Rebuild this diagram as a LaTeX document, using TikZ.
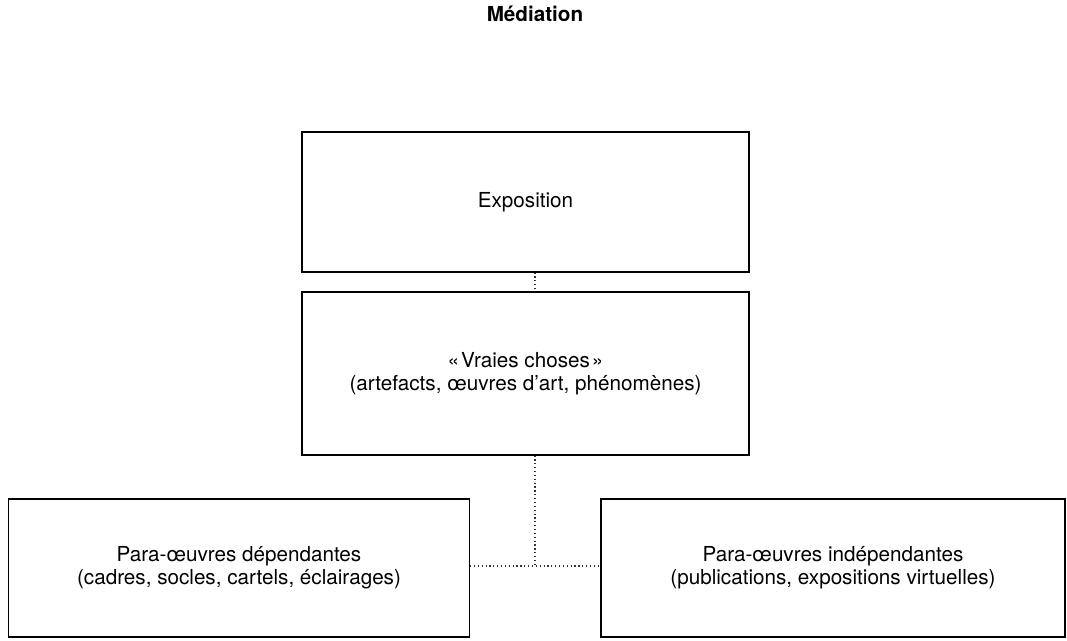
\documentclass[tikz,border=0pt]{standalone}
\usepackage{fontspec}
\setmainfont{TeX Gyre Heros}
\usetikzlibrary{positioning}
\def \px {0.75pt}

\begin{document}
\begin{tikzpicture}[x=\px,y=-\px,
    bloc/.style={draw,line width=0.8pt,inner sep=0pt,align=center,
      font=\fontsize{15.5}{17.5}\selectfont},
    lien/.style={dotted,line width=0.9pt,black!80}]
    \useasboundingbox (0,0) rectangle (1067,640);
    \node[font=\fontsize{15.5}{17.5}\selectfont\bfseries] (titre) at (535,14) {Médiation};
    \node[bloc,minimum width=447*\px,minimum height=140*\px] (expo) at (525.5,202) {Exposition};
    \node[bloc,minimum width=447*\px,minimum height=163*\px] (vraies) at (525.5,373.5)
      {«\kern1.5pt Vraies choses\kern1.5pt»\\(artefacts, œuvres d'art, phénomènes)};
    \node[bloc,minimum width=461*\px,minimum height=138*\px] (dep) at (239,568)
      {Para-œuvres dépendantes\\(cadres, socles, cartels, éclairages)};
    \node[bloc,minimum width=464*\px,minimum height=138*\px] (indep) at (833,568)
      {Para-œuvres indépendantes\\(publications, expositions virtuelles)};
    \coordinate (j) at (535,566);
    \draw[lien] (expo.south -| j) -- (vraies.north -| j);
    \draw[lien] (vraies.south -| j) -- (j);
    \draw[lien] (dep.east |- j) -- (indep.west |- j);
  \end{tikzpicture}
\end{document}
